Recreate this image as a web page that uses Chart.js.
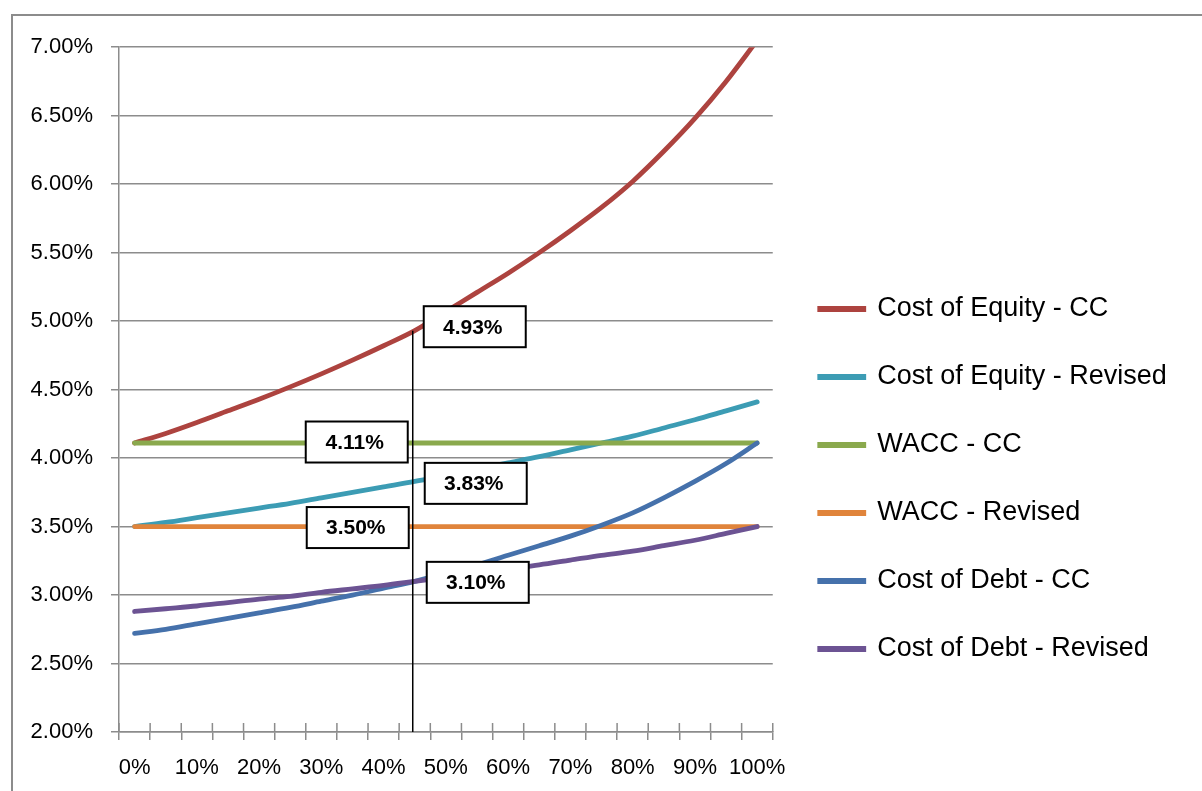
<!DOCTYPE html>
<html>
<head>
<meta charset="utf-8">
<title>Cost of capital</title>
<script src="https://cdn.jsdelivr.net/npm/chart.js@4.4.1/dist/chart.umd.min.js"></script>
<style>
  html, body { margin: 0; padding: 0; background: #fff; overflow: hidden; }
  #frame { position: absolute; left: 11px; top: 14px; width: 1210px; height: 898px; border: 2px solid #8c8c8c; }
</style>
</head>
<body>
<div id="frame"><canvas id="chart"></canvas></div>
<script>
// Debt share of the capital structure
const categories = ['0%', '5%', '10%', '15%', '20%', '25%', '30%', '35%', '40%', '45%', '50%',
  '55%', '60%', '65%', '70%', '75%', '80%', '85%', '90%', '95%', '100%'];

// Rates, in percent
const costOfEquityCC = [4.11, 4.18, 4.26, 4.345, 4.43, 4.52, 4.615, 4.715, 4.82, 4.93, 5.07,
  5.21, 5.35, 5.50, 5.66, 5.83, 6.02, 6.24, 6.48, 6.75, 7.05];
const costOfEquityRevised = [3.50, 3.53, 3.565, 3.60, 3.635, 3.67, 3.71, 3.75, 3.79, 3.83, 3.875,
  3.92, 3.965, 4.01, 4.06, 4.11, 4.16, 4.22, 4.28, 4.345, 4.41];
const waccCC = [4.11, 4.11, 4.11, 4.11, 4.11, 4.11, 4.11, 4.11, 4.11, 4.11, 4.11,
  4.11, 4.11, 4.11, 4.11, 4.11, 4.11, 4.11, 4.11, 4.11, 4.11];
const waccRevised = [3.50, 3.50, 3.50, 3.50, 3.50, 3.50, 3.50, 3.50, 3.50, 3.50, 3.50,
  3.50, 3.50, 3.50, 3.50, 3.50, 3.50, 3.50, 3.50, 3.50, 3.50];
const costOfDebtCC = [2.72, 2.75, 2.79, 2.83, 2.87, 2.91, 2.955, 3.00, 3.05, 3.10, 3.16,
  3.22, 3.29, 3.36, 3.43, 3.51, 3.60, 3.71, 3.83, 3.96, 4.11];
const costOfDebtRevised = [2.88, 2.90, 2.92, 2.945, 2.97, 2.99, 3.02, 3.045, 3.07, 3.10, 3.13,
  3.16, 3.19, 3.22, 3.255, 3.29, 3.32, 3.36, 3.40, 3.45, 3.50];

const seriesNames = ['Cost of Equity - CC', 'Cost of Equity - Revised', 'WACC - CC',
  'WACC - Revised', 'Cost of Debt - CC', 'Cost of Debt - Revised'];

// Category that gets the callouts
const markIndex = 9;

const colors = ['#ad433f', '#3c9cb4', '#8aa94d', '#e0843b', '#4571ab', '#6c5393'];
const gridColor = '#8c8c8c';

// callout boxes: which dataset, and where the box sits relative to its point
const callouts = [
  { dataset: 0, dx: 60, dy: -4 },
  { dataset: 2, dx: -58, dy: -1 },
  { dataset: 1, dx: 61, dy: 2 },
  { dataset: 3, dx: -57, dy: 1 },
  { dataset: 4, dx: 63, dy: 1 }
];

Chart.defaults.font.family = '"Liberation Sans", Arial, sans-serif';
Chart.defaults.color = '#000';

const calloutPlugin = {
  id: 'callouts',
  afterLayout(chart) {
    // nudge the legend a little to the right and let its text run past the box
    chart.legend.left += 6;
    chart.legend.right = chart.legend.left + 420;
  },
  afterDatasetsDraw(chart) {
    const ctx = chart.ctx;
    const area = chart.chartArea;
    const xs = chart.scales.x;

    ctx.save();

    // small tick marks that poke up above the category axis
    const step = xs.getPixelForValue(1) - xs.getPixelForValue(0);
    ctx.strokeStyle = gridColor;
    ctx.lineWidth = 1.5;
    ctx.beginPath();
    for (let i = 0; i <= categories.length; i++) {
      const px = xs.getPixelForValue(0) + (i - 0.5) * step;
      ctx.moveTo(px, area.bottom - 9);
      ctx.lineTo(px, area.bottom);
    }
    ctx.stroke();

    // drop line from the top curve
    const topPoint = chart.getDatasetMeta(0).data[markIndex];
    ctx.strokeStyle = '#000';
    ctx.lineWidth = 1.5;
    ctx.beginPath();
    ctx.moveTo(topPoint.x - 2, topPoint.y);
    ctx.lineTo(topPoint.x - 2, area.bottom);
    ctx.stroke();

    ctx.font = 'bold 21px "Liberation Sans", Arial, sans-serif';
    ctx.textAlign = 'center';
    ctx.textBaseline = 'middle';
    callouts.forEach(c => {
      const p = chart.getDatasetMeta(c.dataset).data[markIndex];
      const value = chart.data.datasets[c.dataset].data[markIndex];
      const w = 102, h = 41;
      const cx = p.x + c.dx, cy = p.y + c.dy;
      ctx.fillStyle = '#fff';
      ctx.fillRect(cx - w / 2, cy - h / 2, w, h);
      ctx.strokeStyle = '#000';
      ctx.lineWidth = 2;
      ctx.strokeRect(cx - w / 2, cy - h / 2, w, h);
      ctx.fillStyle = '#000';
      ctx.fillText(value.toFixed(2) + '%', cx - 2, cy + 1);
    });
    ctx.restore();
  }
};

const seriesData = [costOfEquityCC, costOfEquityRevised, waccCC, waccRevised, costOfDebtCC, costOfDebtRevised];

new Chart(document.getElementById('chart'), {
  type: 'line',
  data: {
    labels: categories,
    datasets: seriesData.map((d, i) => ({
      label: seriesNames[i],
      data: d,
      borderColor: colors[i],
      backgroundColor: colors[i],
      borderWidth: 4.8,
      borderCapStyle: 'round',
      pointRadius: 0,
      cubicInterpolationMode: 'monotone',
      clip: 0,
      order: seriesData.length - i
    }))
  },
  options: {
    responsive: true,
    maintainAspectRatio: false,
    animation: false,
    layout: { padding: { top: 28, right: 197, left: 0, bottom: 0 } },
    scales: {
      x: {
        offset: true,
        afterFit(scale) { scale.height = 182; },
        grid: { offset: true, drawOnChartArea: false, color: gridColor, lineWidth: 1.5, tickLength: 8 },
        border: { color: gridColor, width: 1.5 },
        ticks: {
          autoSkip: false,
          maxRotation: 0,
          padding: 15,
          font: { size: 22 },
          callback: (v, i) => (i % 2 === 0 ? categories[i] : '')
        }
      },
      y: {
        min: 2,
        max: 7,
        afterFit(scale) { scale.width = 106; },
        grid: { color: gridColor, lineWidth: 1.5, tickLength: 8 },
        border: { color: gridColor, width: 1.5 },
        ticks: {
          stepSize: 0.5,
          padding: 18,
          font: { size: 22 },
          callback: v => v.toFixed(2) + '%'
        }
      }
    },
    plugins: {
      tooltip: { enabled: false },
      legend: {
        position: 'right',
        labels: {
          boxWidth: 44,
          boxHeight: 1,
          padding: 41,
          font: { size: 27 },
          color: '#000',
          sort: (a, b) => a.datasetIndex - b.datasetIndex
        }
      }
    }
  },
  plugins: [calloutPlugin]
});
</script>
</body>
</html>
